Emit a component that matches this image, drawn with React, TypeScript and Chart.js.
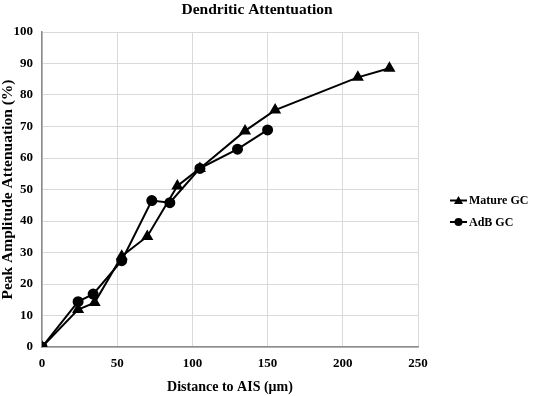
import React, { useEffect, useRef } from "react";
import { Chart, registerables } from "chart.js";

Chart.register(...registerables);

const matureX = [0, 24, 35, 53, 70, 90, 105, 135, 155, 210, 231];
const matureY = [0, 11.9, 14.1, 28.8, 35.1, 51.1, 56.7, 68.6, 75.2, 85.6, 88.5];
const adbX = [0, 24, 34, 53, 73, 85, 105, 130, 150];
const adbY = [0, 14.4, 16.8, 27.4, 46.5, 45.8, 56.7, 62.8, 68.9];
const seriesNames = ["Mature GC", "AdB GC"];
const xTicks = [0, 50, 100, 150, 200, 250];
const yTicks = [0, 10, 20, 30, 40, 50, 60, 70, 80, 90, 100];
const chartTitle = "Dendritic Attentuation";

const FONT = "'Liberation Serif', 'Times New Roman', serif";

const titleAndLegend = {
  id: "titleAndLegend",
  afterDraw(chart: any) {
    const ctx = chart.ctx;
    const area = chart.chartArea;
    ctx.save();
    ctx.fillStyle = "#000";
    ctx.font = `bold 15.5px ${FONT}`;
    ctx.textAlign = "center";
    ctx.textBaseline = "alphabetic";
    ctx.fillText(chartTitle, 257, 14);

    const lx = area.right + 32;
    const ys = [200.5, 222];
    chart.data.datasets.forEach((d: any, i: number) => {
      const y = ys[i];
      ctx.strokeStyle = "#000";
      ctx.fillStyle = "#000";
      ctx.lineWidth = 2;
      ctx.beginPath();
      ctx.moveTo(lx, y);
      ctx.lineTo(lx + 17, y);
      ctx.stroke();
      ctx.beginPath();
      const cx = lx + 8.5;
      if (d.pointStyle === "triangle") {
        ctx.moveTo(cx, y - 4.5);
        ctx.lineTo(cx + 4.5, y + 3.5);
        ctx.lineTo(cx - 4.5, y + 3.5);
        ctx.closePath();
      } else {
        ctx.arc(cx, y, 4, 0, Math.PI * 2);
      }
      ctx.fill();
      ctx.font = `bold 12px ${FONT}`;
      ctx.textAlign = "left";
      ctx.textBaseline = "middle";
      ctx.fillText(d.label, lx + 19, y + 0.5);
    });
    ctx.restore();
  },
};

export default function App() {
  const ref = useRef<HTMLCanvasElement | null>(null);
  useEffect(() => {
    if (!ref.current) return;
    const chart = new Chart(ref.current, {
      type: "line",
      data: {
        datasets: [
          {
            label: seriesNames[0],
            data: matureX.map((x, i) => ({ x, y: matureY[i] })),
            borderColor: "#000",
            backgroundColor: "#000",
            borderWidth: 2,
            pointStyle: "triangle",
            pointRadius: 5,
            pointHoverRadius: 5,
            tension: 0,
          },
          {
            label: seriesNames[1],
            data: adbX.map((x, i) => ({ x, y: adbY[i] })),
            borderColor: "#000",
            backgroundColor: "#000",
            borderWidth: 2,
            pointStyle: "circle",
            pointRadius: 4.5,
            pointHoverRadius: 4.5,
            tension: 0,
          },
        ],
      },
      options: {
        animation: false,
        responsive: false,
        layout: { padding: { left: 0, right: 118, top: 32, bottom: 0 } },
        plugins: {
          title: { display: false },
          legend: { display: false },
          tooltip: { enabled: false },
        },
        scales: {
          x: {
            type: "linear",
            min: 0,
            max: 250,
            afterBuildTicks: (s: any) => {
              s.ticks = xTicks.map((v) => ({ value: v }));
            },
            afterFit: (s: any) => {
              s.height = 49;
            },
            grid: { color: "#d9d9d9", drawTicks: false },
            border: { color: "#8c8c8c", width: 1.5 },
            ticks: {
              color: "#000",
              padding: 9,
              font: { family: FONT, size: 13, weight: "bold" },
            },
            title: {
              display: true,
              text: "Distance to AIS (μm)",
              color: "#000",
              font: { family: FONT, size: 14, weight: "bold" },
              padding: { top: 6, bottom: 0 },
            },
          },
          y: {
            type: "linear",
            min: 0,
            max: 100,
            afterBuildTicks: (s: any) => {
              s.ticks = yTicks.map((v) => ({ value: v }));
            },
            afterFit: (s: any) => {
              s.width = 42;
            },
            grid: { color: "#d9d9d9", drawTicks: false },
            border: { color: "#8c8c8c", width: 1.5 },
            ticks: {
              color: "#000",
              padding: 9,
              font: { family: FONT, size: 13, weight: "bold" },
            },
            title: {
              display: true,
              text: "Peak Amplitude Attenuation (%)",
              color: "#000",
              font: { family: FONT, size: 15.5, weight: "bold", lineHeight: 1 },
              padding: { top: 0, bottom: 0 },
            },
          },
        },
      },
      plugins: [titleAndLegend],
    });
    return () => chart.destroy();
  }, []);
  return (
    <canvas
      ref={ref}
      width={536}
      height={396}
      style={{ display: "block", position: "fixed", left: 0, top: 0 }}
    />
  );
}
